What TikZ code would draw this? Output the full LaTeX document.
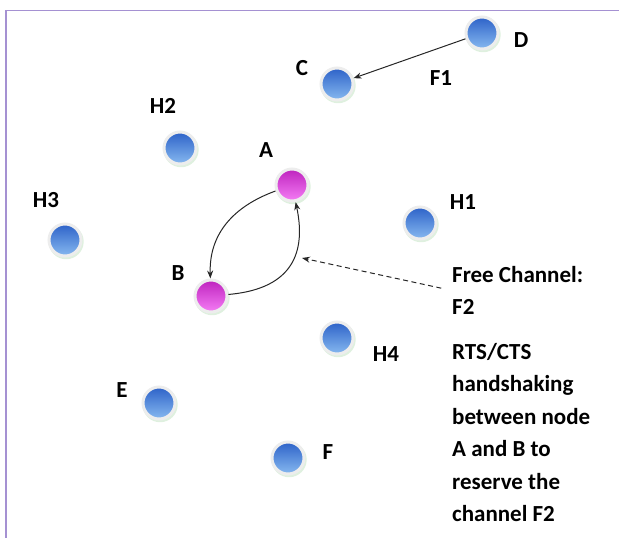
\documentclass[tikz,border=0pt]{standalone}
\usepackage{fontspec}
\setmainfont{Carlito}
\usetikzlibrary{arrows.meta, positioning, shadows}
\definecolor{stationblue}{RGB}{45,98,200}
\definecolor{stationlight}{RGB}{135,185,240}
\definecolor{pairmagenta}{RGB}{190,35,190}
\definecolor{pairlight}{RGB}{245,125,245}
\definecolor{framelilac}{RGB}{165,145,210}

\tikzset{
  station/.style={circle, minimum size=32pt, inner sep=0pt, draw=white!93!black, line width=3pt,
    top color=stationblue, bottom color=stationlight,
    drop shadow={shadow xshift=1pt, shadow yshift=-1.5pt, shadow scale=1.1, fill=black!45!green!25!white, opacity=0.5}},
  pairnode/.style={station, top color=pairmagenta, bottom color=pairlight},
  tag/.style={font=\fontsize{23}{27}\selectfont\bfseries, inner sep=0pt},
  note/.style={font=\fontsize{23}{32.5}\selectfont\bfseries, align=left, inner sep=0pt, anchor=north west},
  link/.style={-{Stealth[length=8pt, width=6pt]}, line width=1pt, black!85},
}

\begin{document}
\begin{tikzpicture}[x=1pt, y=1pt]
\useasboundingbox (0,0) rectangle (619,538);

% frame on the top and left edge
\draw[framelilac, line width=1.8pt] (6,0) -- (6,527.5) -- (619,527.5);

% ordinary stations
\node[station] (D) at (482,505) {};
\node[station] (C) at (337,454) {};
\node[station] (H2) at (180,390) {};
\node[station] (H3) at (65,298) {};
\node[station] (H1) at (420,315) {};
\node[station] (H4) at (337,200) {};
\node[station] (E) at (159,135) {};
\node[station] (F) at (288,80) {};

% the pair doing the handshake
\node[pairnode] (A) at (292,353) {};
\node[pairnode] (B) at (211,242) {};

% station names
\node[tag] (labD) at (521,498) {D};
\node[tag] (labC) at (302,470) {C};
\node[tag] (labF1) at (441,460) {F1};
\node[tag] (labH2) at (163,432) {H2};
\node[tag] (labA) at (266,388) {A};
\node[tag] (labH3) at (46,338) {H3};
\node[tag] (labH1) at (463,336) {H1};
\node[tag] (labB) at (178,265) {B};
\node[tag] (labH4) at (386,184) {H4};
\node[tag] (labE) at (122,148) {E};
\node[tag] (labF) at (328,86) {F};

% side notes
\node[note] (freech) at (452,272) {Free Channel:\\F2};
\node[note] (rtscts) at (452,195) {RTS/CTS\\handshaking\\between node\\A and B to\\reserve the\\channel F2};

% D sends to C on F1
\draw[link] (D) -- (C);

% RTS/CTS exchange between A and B
\draw[link] (A) to[out=200, in=92, looseness=1.05] (B);
\draw[link] (B) to[out=5, in=-78, looseness=1.3] (A);

% free channel pointer
\coordinate (gap) at (302,280);
\draw[link, dashed, dash pattern=on 5pt off 3.5pt, shorten <=11pt] (freech.west) -- (gap);
\end{tikzpicture}
\end{document}
